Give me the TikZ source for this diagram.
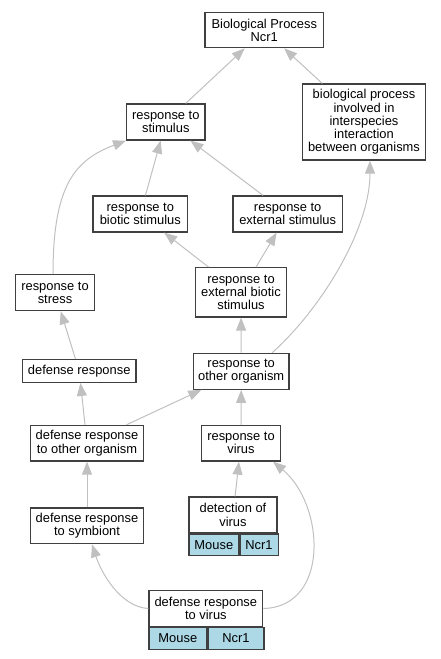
\documentclass[tikz,border=0pt]{standalone}
\usepackage{fontspec}
\setmainfont{Liberation Sans}
\usetikzlibrary{arrows.meta}
\definecolor{edgegray}{HTML}{C0C0C0}
\definecolor{boxline}{HTML}{404040}
\definecolor{cellblue}{HTML}{ADD8E6}

\begin{document}
\begin{tikzpicture}[x=1bp,y=-1bp,
  term/.style={draw=boxline,line width=1.2bp,fill=white,align=center,inner sep=0pt,font=\fontsize{12.9bp}{13.2bp}\selectfont},
  cell/.style={term,fill=cellblue,anchor=north west,minimum height=21.7bp},
  isa/.style={draw=edgegray,line width=1bp,-{Triangle[length=13bp,width=10bp,fill=edgegray]}}]
\useasboundingbox (0,0) rectangle (441,659);
\node[term,minimum width=118.7bp,minimum height=35.4bp] (bp) at (264.3,30) {Biological Process\\Ncr1};
\node[term,minimum width=78.3bp,minimum height=36bp] (stim) at (165.8,122) {response to\\stimulus};
\node[term,minimum width=122.7bp,minimum height=76bp] (involved) at (364,122) {biological process\\involved in\\interspecies\\interaction\\between organisms};
\node[term,minimum width=94.7bp,minimum height=36bp] (biotic) at (140.3,214) {response to\\biotic stimulus};
\node[term,minimum width=109.3bp,minimum height=36bp] (external) at (287.7,214) {response to\\external stimulus};
\node[term,minimum width=78.7bp,minimum height=36bp] (stress) at (55,292.7) {response to\\stress};
\node[term,minimum width=90.7bp,minimum height=49.3bp] (extbiotic) at (241,292.3) {response to\\external biotic\\stimulus};
\node[term,minimum width=113.7bp,minimum height=22.7bp] (defense) at (79.2,371) {defense response};
\node[term,minimum width=95.7bp,minimum height=36bp] (other) at (241.2,371.3) {response to\\other organism};
\node[term,minimum width=113.4bp,minimum height=35.7bp] (defother) at (87,443.2) {defense response\\to other organism};
\node[term,minimum width=79bp,minimum height=35.7bp] (virus) at (241,443.2) {response to\\virus};
\node[term,minimum width=113.4bp,minimum height=35.7bp] (symbiont) at (87,525.8) {defense response\\to symbiont};
\node[term,minimum width=88bp,minimum height=35.7bp] (detect) at (233,514.85) {detection of\\virus};
\node[cell,minimum width=49.7bp] (detectM) at (detect.south west) {Mouse};
\node[cell,minimum width=38.3bp] (detectN) at (detectM.north east) {Ncr1};
\node[term,minimum width=113.7bp,minimum height=35.6bp] (defvirus) at (205.85,608.5) {defense response\\to virus};
\node[cell,minimum width=57.7bp] (defvirusM) at (defvirus.south west) {Mouse};
\node[cell,minimum width=56bp] (defvirusN) at (defvirusM.north east) {Ncr1};
\draw[isa] (stim) -- (bp);
\draw[isa] (involved) -- (bp);
\draw[isa] (biotic) -- (stim);
\draw[isa] (external) -- (stim);
\draw[isa] ([xshift=-2bp]stress.north) .. controls (53,185) and (75,160) .. (stim.south west);
\draw[isa] (extbiotic) -- (biotic);
\draw[isa] (extbiotic) -- (external);
\draw[isa] (other) -- (extbiotic);
\draw[isa] ([xshift=31bp]other.north) .. controls (320,310) and (370,230) .. ([xshift=6bp]involved.south);
\draw[isa] (defense) -- (stress);
\draw[isa] (defother) -- (defense);
\draw[isa] (defother) -- (other);
\draw[isa] (virus) -- (other);
\draw[isa] (symbiont) -- (defother);
\draw[isa] (detect) -- (virus);
\draw[isa] (defvirus.west) .. controls (120,607) and (101,572) .. ([xshift=5bp]symbiont.south);
\draw[isa] (defvirus.east) .. controls (330,607) and (325,505) .. ([xshift=32bp]virus.south);
\end{tikzpicture}
\end{document}
